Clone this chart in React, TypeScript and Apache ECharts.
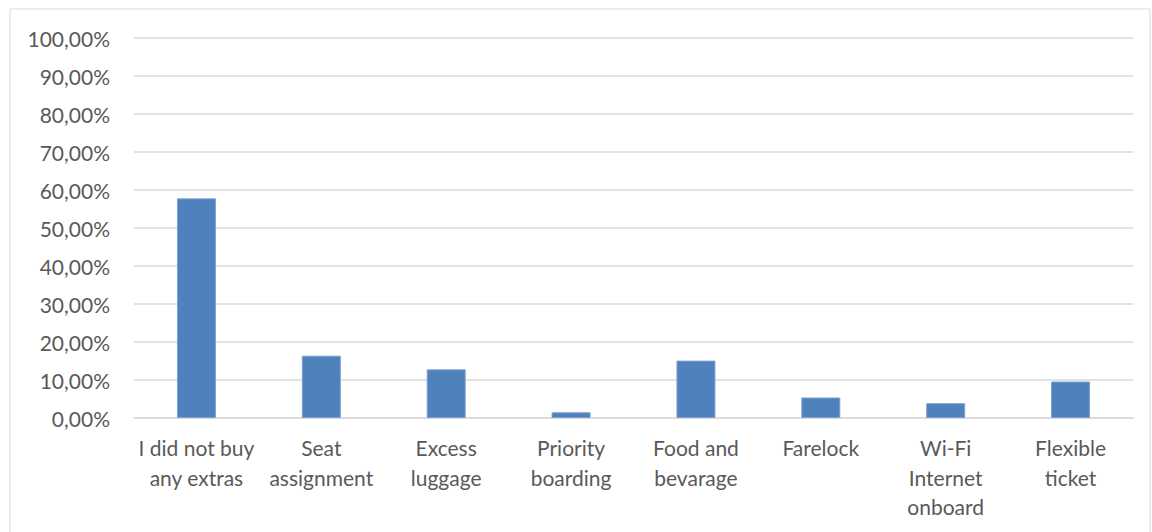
import React, { useEffect, useRef } from "react";
import * as echarts from "echarts";

const categories = [
  "I did not buy\nany extras",
  "Seat\nassignment",
  "Excess\nluggage",
  "Priority\nboarding",
  "Food and\nbevarage",
  "Farelock",
  "Wi-Fi\nInternet\nonboard",
  "Flexible\nticket",
];
const shares = [57.8, 16.4, 12.8, 1.5, 15.1, 5.4, 3.9, 9.6];
const yTicks = { min: 0, max: 100, interval: 10 };

export default function App() {
  const ref = useRef<HTMLDivElement>(null);
  useEffect(() => {
    if (!ref.current) return;
    const chart = echarts.init(ref.current, undefined, { renderer: "svg" });
    const font = "Lato, 'Open Sans', sans-serif";
    chart.setOption({
      animation: false,
      backgroundColor: "#ffffff",
      graphic: [
        {
          type: "rect",
          shape: { x: 10, y: 9, width: 1140, height: 540 },
          style: { fill: "none", stroke: "#d9d9d9", lineWidth: 1 },
          silent: true,
        },
      ],
      grid: { left: 134, right: 19, top: 38, bottom: 114 },
      xAxis: {
        type: "category",
        data: categories,
        axisLine: { show: true, lineStyle: { color: "#d9d9d9", width: 1.5 } },
        axisTick: { show: false },
        axisLabel: {
          interval: 0,
          margin: 15,
          color: "#595959",
          fontSize: 21,
          fontFamily: font,
          lineHeight: 29.5,
        },
      },
      yAxis: {
        type: "value",
        min: yTicks.min,
        max: yTicks.max,
        interval: yTicks.interval,
        axisLine: { show: false },
        axisTick: { show: false },
        splitLine: { lineStyle: { color: "#d9d9d9", width: 1.5 } },
        axisLabel: {
          margin: 24,
          color: "#595959",
          fontSize: 21,
          fontFamily: font,
          formatter: (v: number) => v.toFixed(2).replace(".", ",") + "%",
        },
      },
      series: [
        {
          type: "bar",
          data: shares,
          barWidth: 39,
          itemStyle: { color: "#4f81bd", borderColor: "#7da2cf", borderWidth: 1 },
        },
      ],
    });
    return () => chart.dispose();
  }, []);
  return (
    <div
      ref={ref}
      style={{ position: "fixed", left: 0, top: 0, width: 1152, height: 532 }}
    />
  );
}
